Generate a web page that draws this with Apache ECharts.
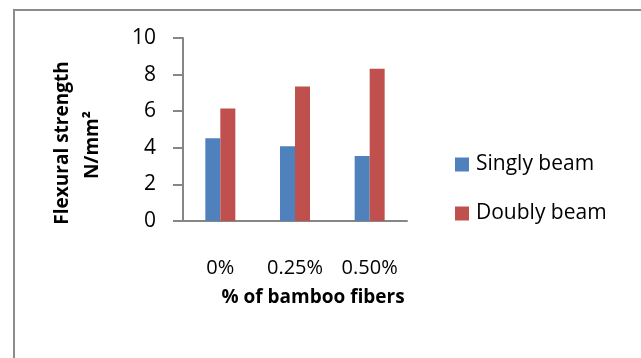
<!DOCTYPE html>
<html>
<head>
<meta charset="utf-8">
<script src="https://cdn.jsdelivr.net/npm/echarts@6/dist/echarts.min.js"></script>
<style>
  html, body { margin: 0; padding: 0; background: #fff; }
  #chart { width: 641px; height: 358px; }
</style>
</head>
<body>
<div id="chart"></div>
<script>
// Fiber content categories and measured flexural strength (N/mm²)
const categories = ['0%', '0.25%', '0.50%'];
const singlyBeam = [4.52, 4.08, 3.55];
const doublyBeam = [6.15, 7.35, 8.32];
const seriesNames = ['Singly beam', 'Doubly beam'];

const FONT = '"Open Sans", sans-serif';
const AXIS_GRAY = '#868686';

const chart = echarts.init(document.getElementById('chart'));
chart.setOption({
  animation: false,
  backgroundColor: '#fff',
  grid: { left: 183, top: 38, right: 234, bottom: 137, containLabel: false },
  legend: {
    orient: 'vertical',
    left: 450,
    top: 149,
    itemWidth: 14,
    itemHeight: 14,
    itemGap: 28,
    icon: 'rect',
    textStyle: { fontFamily: FONT, fontSize: 21, color: '#000', padding: [0, 0, 0, 2] },
    data: seriesNames
  },
  xAxis: {
    type: 'category',
    data: categories,
    axisLine: { lineStyle: { color: AXIS_GRAY, width: 2 } },
    axisTick: { show: false },
    axisLabel: {
      interval: 0,
      hideOverlap: false,
      margin: 37,
      fontFamily: FONT,
      fontSize: 20,
      color: '#000'
    }
  },
  yAxis: {
    type: 'value',
    min: 0,
    max: 10,
    interval: 2,
    splitLine: { show: false },
    axisLine: { show: true, lineStyle: { color: AXIS_GRAY, width: 2 } },
    axisTick: { show: true, length: 10, lineStyle: { color: AXIS_GRAY, width: 2 } },
    axisLabel: { margin: 27, fontFamily: FONT, fontSize: 21, color: '#000' }
  },
  series: [
    {
      name: seriesNames[0],
      type: 'bar',
      data: singlyBeam,
      barWidth: 15,
      barGap: '0%',
      itemStyle: { color: '#4f81bd' }
    },
    {
      name: seriesNames[1],
      type: 'bar',
      data: doublyBeam,
      barWidth: 15,
      barGap: '0%',
      itemStyle: { color: '#c0504d' }
    }
  ],
  graphic: [
    {
      type: 'rect',
      shape: { x: 14, y: 10, width: 700, height: 400 },
      style: { fill: 'none', stroke: '#8c8c8c', lineWidth: 2 },
      silent: true
    },
    {
      type: 'text',
      x: 313, y: 298,
      style: {
        text: '% of bamboo fibers',
        font: 'bold 19px ' + FONT,
        fill: '#000',
        textAlign: 'center',
        textVerticalAlign: 'middle'
      }
    },
    {
      type: 'text',
      x: 63, y: 143,
      rotation: Math.PI / 2,
      style: {
        text: 'Flexural strength',
        font: 'bold 19px ' + FONT,
        fill: '#000',
        textAlign: 'center',
        textVerticalAlign: 'middle'
      }
    },
    {
      type: 'text',
      x: 93, y: 145,
      rotation: Math.PI / 2,
      style: {
        text: 'N/mm²',
        font: 'bold 19px ' + FONT,
        fill: '#000',
        textAlign: 'center',
        textVerticalAlign: 'middle'
      }
    }
  ]
});
</script>
</body>
</html>
